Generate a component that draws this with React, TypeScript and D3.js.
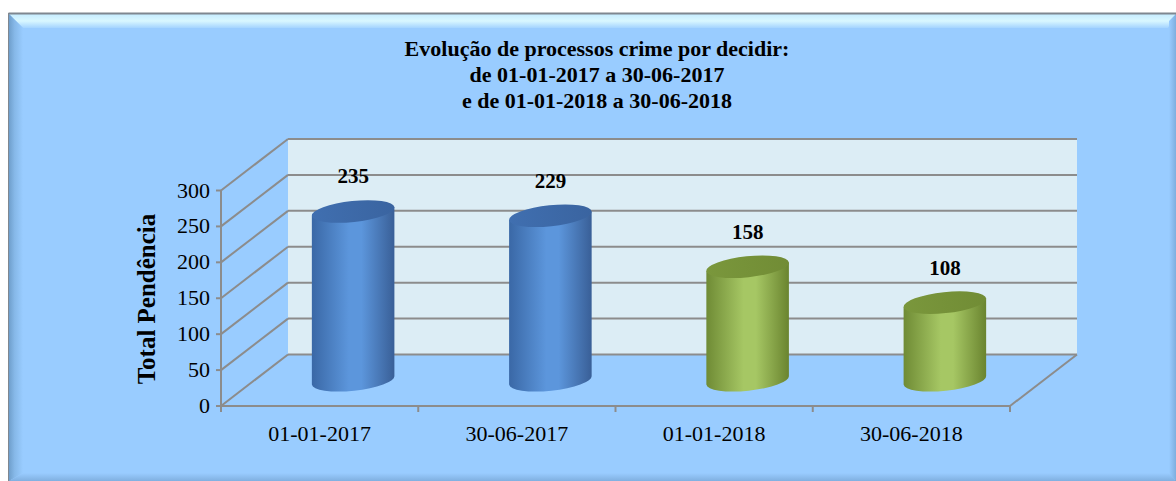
import React from 'react';
import * as d3 from 'd3';

// data
const categories = ['01-01-2017', '30-06-2017', '01-01-2018', '30-06-2018'];
const values = [235, 229, 158, 108];
const seriesColor = ['blue', 'blue', 'green', 'green'];
const yTicks = [0, 50, 100, 150, 200, 250, 300];
const titleLines = [
  'Evolução de processos crime por decidir:',
  'de 01-01-2017 a 30-06-2017',
  'e de 01-01-2018 a 30-06-2018'
];
const yTitle = 'Total Pendência';

const W = 1176, H = 481;
const font = '"Book Antiqua", "Palatino Linotype", "Liberation Serif", serif';

// plot geometry (front plane + depth offset)
const front = { left: 221, right: 1010, bottom: 406, top: 190.5 };
const depth = { dx: 67, dy: -51.5 };

const palette = {
  blue: { edge: '#3a68a6', mid: '#5c96dc', edge2: '#395f97', top: '#406fb0', top2: '#3a64a0' },
  green: { edge: '#6f8b35', mid: '#a6c764', edge2: '#6a842f', top: '#7a973c', top2: '#718c35' }
};

export default function App() {
  const x = d3.scaleBand().domain(categories).range([front.left, front.right]);
  const y = d3.scaleLinear().domain([0, 300]).range([front.bottom, front.top]);

  const backL = front.left + depth.dx, backR = front.right + depth.dx;
  const backY = (v) => y(v) + depth.dy;

  const rx = 41.5, ry = 10.5, tilt = -6;
  const t = (tilt * Math.PI) / 180;
  const ex = rx * Math.cos(t), ey = rx * Math.sin(t);

  const cyl = values.map((v, i) => {
    const cx = x(categories[i]) + x.bandwidth() / 2 + depth.dx / 2;
    const base = y(0) + depth.dy / 2;
    const top = y(v) + depth.dy / 2;
    return { v, cx, base, top, c: seriesColor[i] };
  });

  return (
    <div style={{ position: 'absolute', left: 0, top: 0 }}>
      <svg width={W} height={H} style={{ display: 'block' }}>
        <defs>
          <linearGradient id="bevTop" x1="0" y1="0" x2="0" y2="1">
            <stop offset="0" stopColor="#c6ecff" />
            <stop offset="0.5" stopColor="#d9f7ff" />
            <stop offset="1" stopColor="#a4d4ff" />
          </linearGradient>
          <linearGradient id="bevLeft" x1="0" y1="0" x2="1" y2="0">
            <stop offset="0" stopColor="#6f9fcc" />
            <stop offset="0.4" stopColor="#86b8e8" />
            <stop offset="1" stopColor="#99ccff" />
          </linearGradient>
          <linearGradient id="bevRight" x1="0" y1="0" x2="1" y2="0">
            <stop offset="0" stopColor="#99ccff" />
            <stop offset="1" stopColor="#7eaede" />
          </linearGradient>
          <linearGradient id="bevBottom" x1="0" y1="0" x2="0" y2="1">
            <stop offset="0" stopColor="#99ccff" />
            <stop offset="1" stopColor="#80b0e0" />
          </linearGradient>
          {Object.entries(palette).map(([k, p]) => (
            <React.Fragment key={k}>
              <linearGradient id={'body-' + k} x1="0" y1="0" x2="1" y2="0">
                <stop offset="0" stopColor={p.edge} />
                <stop offset="0.45" stopColor={p.mid} />
                <stop offset="0.6" stopColor={p.mid} />
                <stop offset="1" stopColor={p.edge2} />
              </linearGradient>
              <linearGradient id={'top-' + k} x1="0" y1="0" x2="1" y2="0">
                <stop offset="0" stopColor={p.top} />
                <stop offset="1" stopColor={p.top2} />
              </linearGradient>
            </React.Fragment>
          ))}
        </defs>

        {/* outer frame with bevel */}
        <rect x={8.5} y={13.5} width={W - 9} height={H - 14} fill="#99ccff" stroke="#8a9099" />
        <polygon points={`9,14 ${W},14 ${W - 8},28 23,28`} fill="url(#bevTop)" />
        <polygon points={`9,14 23,28 23,${H - 8} 9,${H}`} fill="url(#bevLeft)" />
        <polygon points={`${W},14 ${W},${H} ${W - 7},${H - 7} ${W - 7},21`} fill="url(#bevRight)" />
        <polygon points={`9,${H} 23,${H - 8} ${W - 7},${H - 8} ${W},${H}`} fill="url(#bevBottom)" />
        <line x1={8.5} y1={13.5} x2={8.5} y2={H} stroke="#7f8790" />
        <line x1={8.5} y1={13.5} x2={W} y2={13.5} stroke="#7f8790" strokeWidth={2} />

        {/* title */}
        <text textAnchor="middle" fontFamily={font} fontWeight="bold" fontSize={22} fill="#000">
          {titleLines.map((l, i) => (
            <tspan key={i} x={597} y={56 + i * 26}>{l}</tspan>
          ))}
        </text>

        {/* back wall */}
        <rect x={backL} y={backY(300)} width={backR - backL} height={backY(0) - backY(300)} fill="#dcedf5" />

        {/* gridlines: back wall + side wall */}
        {yTicks.map((v) => (
          <g key={v} stroke="#8c8c8c" strokeWidth={2} fill="none">
            <line x1={backL} y1={backY(v)} x2={backR} y2={backY(v)} />
            <line x1={front.left} y1={y(v)} x2={backL} y2={backY(v)} />
            <line x1={front.left - 5} y1={y(v)} x2={front.left} y2={y(v)} />
          </g>
        ))}
        <line x1={front.left} y1={y(0)} x2={front.left} y2={y(300)} stroke="#8c8c8c" strokeWidth={2} />
        <line x1={front.left} y1={y(0)} x2={front.right} y2={y(0)} stroke="#8c8c8c" strokeWidth={2} />
        <line x1={front.right} y1={y(0)} x2={backR} y2={backY(0)} stroke="#8c8c8c" strokeWidth={2} />
        {categories.concat(['end']).map((c, i) => {
          const xx = i < categories.length ? x(c) : front.right;
          return <line key={i} x1={xx} y1={y(0)} x2={xx} y2={y(0) + 6} stroke="#8c8c8c" strokeWidth={2} />;
        })}

        {/* y tick labels */}
        {yTicks.map((v) => (
          <text key={v} x={210} y={y(v) + 7} textAnchor="end" fontFamily={font} fontSize={22} fill="#000">{v}</text>
        ))}

        {/* y axis title */}
        <text transform={`translate(155,${299}) rotate(-90)`} textAnchor="middle" fontFamily={font}
          fontWeight="bold" fontSize={25} fill="#000">{yTitle}</text>

        {/* category labels */}
        {categories.map((c) => (
          <text key={c} x={x(c) + x.bandwidth() / 2} y={441} textAnchor="middle" fontFamily={font} fontSize={22} fill="#000">{c}</text>
        ))}

        {/* cylinders */}
        {cyl.map((d, i) => {
          const body = `M${d.cx - ex},${d.top - ey} L${d.cx - ex},${d.base - ey}
            A${rx},${ry} ${tilt} 0 0 ${d.cx + ex},${d.base + ey}
            L${d.cx + ex},${d.top + ey} Z`;
          return (
            <g key={i}>
              <path d={body} fill={`url(#body-${d.c})`} />
              <ellipse cx={d.cx} cy={d.top} rx={rx} ry={ry} transform={`rotate(${tilt},${d.cx},${d.top})`}
                fill={`url(#top-${d.c})`} />
              <text x={d.cx} y={d.top - 28} textAnchor="middle" fontFamily={font} fontWeight="bold"
                fontSize={21} fill="#000">{d.v}</text>
            </g>
          );
        })}
      </svg>
    </div>
  );
}
